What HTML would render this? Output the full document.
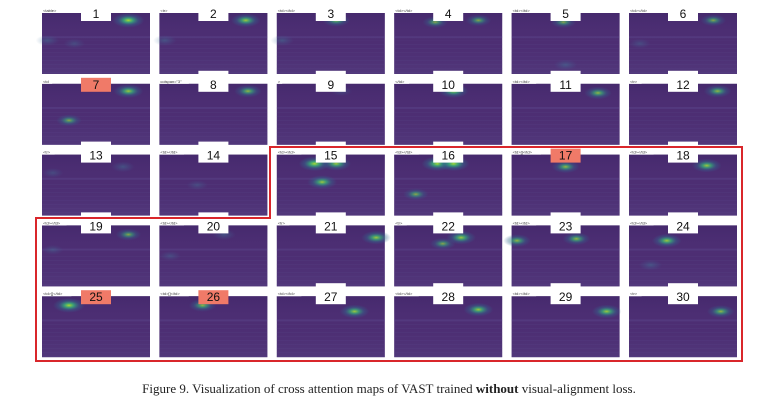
<!DOCTYPE html>
<html><head><meta charset="utf-8">
<style>
html,body{margin:0;padding:0;background:#fff;}
svg{display:block;}
</style></head>
<body>
<svg id="fig" width="778" height="411" viewBox="0 0 778 411" xmlns="http://www.w3.org/2000/svg">
<defs>
<radialGradient id="glow"><stop offset="0" stop-color="#a8db34" stop-opacity="1"/><stop offset="0.3" stop-color="#35b779" stop-opacity="0.8"/><stop offset="0.65" stop-color="#31688e" stop-opacity="0.45"/><stop offset="1" stop-color="#31688e" stop-opacity="0"/></radialGradient>
<radialGradient id="soft"><stop offset="0" stop-color="#3e8a9e" stop-opacity="0.65"/><stop offset="1" stop-color="#3e6a9e" stop-opacity="0"/></radialGradient>
<linearGradient id="haze" x1="0" y1="0" x2="0" y2="1"><stop offset="0" stop-color="#3d2466" stop-opacity="0.5"/><stop offset="0.45" stop-color="#4b3078" stop-opacity="0"/><stop offset="1" stop-color="#5a4a8a" stop-opacity="0.35"/></linearGradient>
<pattern id="rows" width="108" height="4" patternUnits="userSpaceOnUse"><rect width="108" height="1" fill="#5a4a8a" opacity="0.18"/></pattern>
</defs>
<g id="tiles"></g>
<polygon points="270,147 742,147 742,361 36,361 36,218 270,218" fill="none" stroke="#d9262b" stroke-width="2"/>
<text x="389" y="393" text-anchor="middle" font-family="Liberation Serif, serif" font-size="13" fill="#222">Figure 9. Visualization of cross attention maps of VAST trained <tspan font-weight="bold">without</tspan> visual-alignment loss.</text>
</svg>
<script>
const tileNums = [1,2,3,4,5,6,7,8,9,10,11,12,13,14,15,16,17,18,19,20,21,22,23,24,25,26,27,28,29,30];
const tags = ["<table>","<tr>","<td></td>","<td></td>","<td></td>","<td></td>","<td","colspan=\"3\"",">","</td>","<td></td>","<tr>","<tr>","<td></td>","<td></td>","<td></td>","<td>[]</td>","<td></td>","<td></td>","<td></td>","<tr>","<tr>","<td></td>","<td></td>","<td>[]</td>","<td>[]</td>","<td></td>","<td></td>","<td></td>","<tr>"];
const highlighted = [7,17,25,26];
// hotspots: tile number, x fraction, y fraction, intensity (0-1)
const hotTile = [1,1,2,3,4,4,5,6,7,7,8,9,10,11,12,13,14,15,15,15,16,16,16,17,18,19,20,21,22,22,23,23,24,24,25,26,27,28,29,30,1,2,3,5,6,13,19,20];
const hotX =    [0.80,0.3,0.80,0.55,0.78,0.38,0.48,0.78,0.80,0.25,0.82,0.60,0.55,0.80,0.82,0.75,0.35,0.35,0.55,0.42,0.40,0.55,0.20,0.50,0.72,0.80,0.60,0.92,0.62,0.45,0.60,0.05,0.35,0.20,0.25,0.40,0.72,0.78,0.88,0.85,0.05,0.05,0.05,0.50,0.10,0.10,0.10,0.10];
const hotY =    [0.12,0.5,0.12,0.12,0.12,0.15,0.15,0.12,0.12,0.60,0.12,0.12,0.12,0.15,0.12,0.20,0.50,0.15,0.15,0.45,0.15,0.15,0.65,0.20,0.18,0.15,0.15,0.20,0.20,0.30,0.22,0.25,0.25,0.65,0.15,0.15,0.25,0.22,0.25,0.25,0.45,0.45,0.45,0.85,0.50,0.30,0.40,0.50];
const hotI =    [0.9,0.4,0.8,0.7,0.6,0.6,0.6,0.6,0.8,0.6,0.7,0.4,0.8,0.7,0.7,0.5,0.4,0.9,0.8,0.8,0.9,0.9,0.6,0.7,0.8,0.6,0.5,0.8,0.8,0.6,0.7,0.7,0.8,0.5,0.9,0.7,0.8,0.8,0.8,0.7,0.5,0.5,0.5,0.5,0.4,0.4,0.4,0.4];

const NS = "http://www.w3.org/2000/svg";
const colX = c => 42 + c * 117.4;
const rowY = r => 13 + r * 70.8;
const TW = 108, TH = 61;
const g = document.getElementById('tiles');
function mk(tag, attrs){ const e = document.createElementNS(NS, tag); for (const k in attrs) e.setAttribute(k, attrs[k]); return e; }

tileNums.forEach((n, i) => {
  const c = i % 6, r = Math.floor(i / 6);
  const x = colX(c), y = rowY(r);
  const tg = mk('g', {});
  
  
  const bg = mk('rect', {x:x, y:y, width:TW, height:TH, fill:'#4d2e73'});
  
  
  tg.appendChild(bg);
  tg.appendChild(mk('rect', {x:x, y:y, width:TW, height:TH, fill:'url(#haze)'}));
  tg.appendChild(mk('rect', {x:x, y:y+TH*0.45, width:TW, height:TH*0.55, fill:'url(#rows)'}));
  tg.appendChild(mk('rect', {x:x, y:y+TH*0.38, width:TW, height:2, fill:'#5e4e92', opacity:0.35}));
  hotTile.forEach((t, k) => {
    if (t !== n) return;
    const rad = 5 + hotI[k] * 8;
    const cx = x + hotX[k] * TW, cy = y + hotY[k] * TH;
    const e = mk('ellipse', {cx:cx, cy:cy, rx:rad*1.3, ry:rad*0.6, fill: hotI[k] > 0.55 ? 'url(#glow)' : 'url(#soft)', opacity: Math.min(1, hotI[k] + 0.1)});
    
    
    tg.appendChild(e);
  });
  const hl = highlighted.includes(n);
  const bx = x + 39;
  const box = mk('rect', {x:bx, y: hl ? y-6 : y-13, width:30, height: hl ? 14 : 21, fill: hl ? '#f07a68' : '#fff'});
  
  
  tg.appendChild(box);
  const t = mk('text', {x:bx+15, y:y+5, 'text-anchor':'middle', 'font-family':'Liberation Sans, sans-serif', 'font-size':'12', fill:'#111'});
  t.textContent = n;
  
  
  tg.appendChild(t);
  const tagBg = mk('rect', {x:x, y:y-6, width: Math.min(36, 3 + tags[i].length*2.4), height:6, fill:'#fff'});
  tg.appendChild(tagBg);
  const tt = mk('text', {x:x+1, y:y-1, 'font-family':'Liberation Sans, sans-serif', 'font-size':'4', fill:'#333'});
  tt.textContent = tags[i];
  
  
  tg.appendChild(tt);
  g.appendChild(tg);
});
</script>
</body></html>
